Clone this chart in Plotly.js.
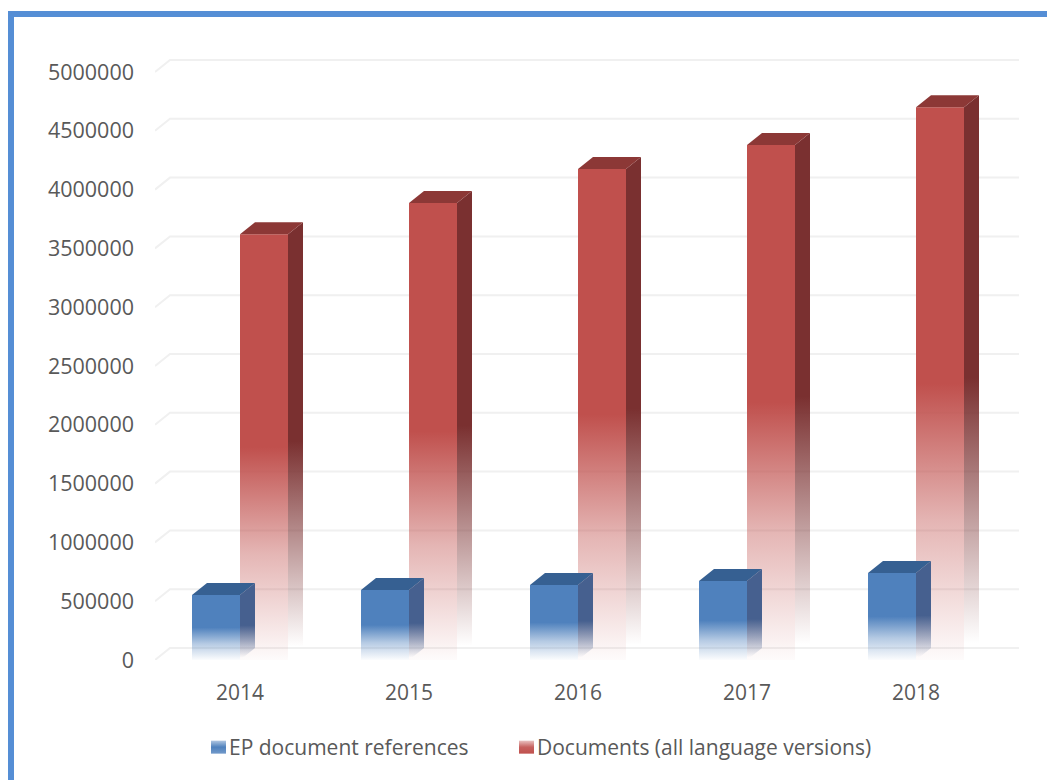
<!DOCTYPE html>
<html><head><meta charset="utf-8">
<script src="https://cdn.plot.ly/plotly-3.0.1.min.js"></script>
<style>html,body{margin:0;padding:0;background:#fff}#c{width:1047px;height:780px}</style>
</head><body><div id="c"></div>
<script>
const categories = ['2014','2015','2016','2017','2018'];
const epReferences = [553000, 595000, 638000, 672000, 740000];
const documentsAll = [3620000, 3886000, 4175000, 4380000, 4700000];
const yTicks = [0,500000,1000000,1500000,2000000,2500000,3000000,3500000,4000000,4500000,5000000];

const W=1047,H=780,L=155,R=1019,T=50,B=660;
const pxX=169, pxY=588/5000000;
const depthX=15/pxX, depthY=12/pxY, barW=48/pxX;
const xIdx=categories.map((_,i)=>i);
const px=v=>(v-L)/(R-L), py=v=>(B-v)/(B-T);

function sideFaces(vals,off,color,name){
  return vals.map((v,i)=>{
    const a=i+off+barW;
    return {x:[a,a+depthX,a+depthX,a,a],y:[v,v+depthY,depthY,0,v],mode:'none',fill:'toself',fillcolor:color,
      type:'scatter',showlegend:false,hoverinfo:'skip',meta:name};
  });
}
function topFaces(vals,off,color){
  return vals.map((v,i)=>{
    const a=i+off;
    return {x:[a,a+depthX,a+barW+depthX,a+barW,a],y:[v,v+depthY,v+depthY,v,v],mode:'none',fill:'toself',fillcolor:color,
      type:'scatter',showlegend:false,hoverinfo:'skip',meta:'top'};
  });
}
const traces=[
 {type:'bar',x:xIdx,y:documentsAll,width:barW,offset:0,marker:{color:'#C0504D'},name:'Documents (all language versions)',legend:'legend2',meta:'faceR'},
 ...sideFaces(documentsAll,0,'#7A3030','sideR'),
 ...topFaces(documentsAll,0,'#8C3836'),
 {type:'bar',x:xIdx,y:epReferences,width:barW,offset:-barW,marker:{color:'#4F81BD'},name:'EP document references',legend:'legend',meta:'faceB'},
 ...sideFaces(epReferences,-barW,'#46608F','sideB'),
 ...topFaces(epReferences,-barW,'#366092')
];
const gridShapes=yTicks.map(v=>({type:'path',xref:'x',yref:'y',layer:'below',
  path:`M${(L-240)/pxX},${v} L${(L+15-240)/pxX},${v+depthY} L${(R-240)/pxX},${v+depthY}`,
  line:{color:'#F0F0F0',width:2}}));
const frame=[
 {type:'rect',xref:'paper',yref:'paper',x0:px(8),x1:px(14),y0:py(H),y1:py(11),fillcolor:'#558ED5',line:{width:0},layer:'above'},
 {type:'rect',xref:'paper',yref:'paper',x0:px(8),x1:px(W),y0:py(17),y1:py(11),fillcolor:'#558ED5',line:{width:0},layer:'above'}
];
const font={family:'"Open Sans", sans-serif',size:21,color:'#595959'};
const yFont={family:'"Open Sans", sans-serif',size:21.5,color:'#595959'};
const layout={
 width:W,height:H,paper_bgcolor:'#fff',plot_bgcolor:'#fff',showlegend:true,
 margin:{l:L,r:W-R,t:T,b:H-B,pad:0},font:font,barmode:'overlay',
 xaxis:{range:[(L-240)/pxX,(R-240)/pxX],tickvals:xIdx,ticktext:categories,showgrid:false,zeroline:false,showline:false,ticks:'',ticklabelstandoff:18,tickfont:font,fixedrange:true},
 yaxis:{range:[0,(B-T)/pxY],tickvals:yTicks,ticktext:yTicks.map(String),showgrid:false,zeroline:false,showline:false,ticks:'',ticklabelstandoff:20,tickfont:yFont,fixedrange:true},
 legend:{orientation:'h',x:px(189),xanchor:'left',y:py(727),yanchor:'top',font:font,bgcolor:'rgba(0,0,0,0)'},
 legend2:{orientation:'h',x:px(497),xanchor:'left',y:py(727),yanchor:'top',font:font,bgcolor:'rgba(0,0,0,0)'},
 shapes:[...gridShapes,...frame]
};
function addGrad(defs,id,color,stops){
  const g=document.createElementNS('http://www.w3.org/2000/svg','linearGradient');
  g.id=id;g.setAttribute('x1','0');g.setAttribute('y1','0');g.setAttribute('x2','0');g.setAttribute('y2','1');
  stops.forEach(s=>{const e=document.createElementNS('http://www.w3.org/2000/svg','stop');
    e.setAttribute('offset',s[0]);e.setAttribute('stop-color',color);e.setAttribute('stop-opacity',s[1]);g.appendChild(e);});
  defs.appendChild(g);
}
Plotly.newPlot('c',traces,layout,{displayModeBar:false,staticPlot:true}).then(gd=>{
  const defs=gd.querySelector('.main-svg defs');
  const fade=[[0,1],[0.5,1],[0.75,0.42],[1,0.02]];
  addGrad(defs,'gFaceR','#C0504D',fade);
  addGrad(defs,'gFaceB','#4F81BD',fade);
  addGrad(defs,'gSideR','#7A3030',[[0,1],[0.5,1],[0.97,0]]);
  addGrad(defs,'gSideB','#46608F',[[0,1],[0.55,1],[0.97,0]]);
  addGrad(defs,'gLegB','#4F81BD',[[0,0.45],[0.5,1],[1,0.8]]);
  addGrad(defs,'gLegR','#C0504D',[[0,0.35],[0.5,0.9],[1,1]]);
  const bars=gd.querySelectorAll('.barlayer .trace');
  bars.forEach((t,i)=>{t.querySelectorAll('.point path').forEach(p=>{p.style.fill=i==0?'url(#gFaceR)':'url(#gFaceB)';});});
  const fills=gd.querySelectorAll('.scatterlayer .trace');
  fills.forEach((t,i)=>{
    const f=t.querySelector('.js-fill'); if(!f) return;
    if(i<5) f.style.fill='url(#gSideR)';
    else if(i>=10&&i<15) f.style.fill='url(#gSideB)';
  });
  const swatch=(sel,g)=>{const leg=gd.querySelector(sel); if(!leg) return;
    const p=leg.querySelector('.legendpoints path');
    if(p){p.setAttribute('d','M7.5,6.5H-7.5V-6.5H7.5Z');p.style.fill=g;p.style.stroke='none';
      p.setAttribute('transform','translate(29.5,0)');}
  };
  swatch('.legend','url(#gLegB)');
  swatch('.legend2','url(#gLegR)');
});
</script></body></html>
